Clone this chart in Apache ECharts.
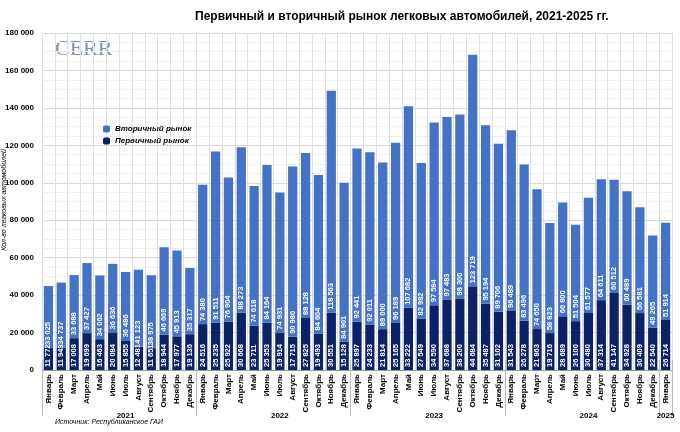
<!DOCTYPE html>
<html>
<head>
<meta charset="utf-8">
<script src="https://cdn.jsdelivr.net/npm/echarts@6/dist/echarts.min.js"></script>
<style>body{margin:0}#main{width:680px;height:432px}</style>
</head>
<body>
<div id="main"></div>
<script>
var monthNames = ['Январь','Февраль','Март','Апрель','Май','Июнь','Июль','Август','Сентябрь','Октябрь','Ноябрь','Декабрь'];
var years = ['2021','2022','2023','2024','2025'];
var primary = [11772,11943,17008,19699,16463,20084,15855,12481,11651,18944,17977,19136,
  24516,25235,25922,30668,23711,25353,19914,17715,27825,19493,30551,15128,
  25897,24233,21814,25165,33222,27549,34590,37688,38200,44684,35487,31102,
  31543,26278,21863,19716,28689,26100,30480,37314,41147,34928,30409,22540,
  26714];
var secondary = [33025,34737,33688,37427,34062,36636,36486,41123,38975,46669,45913,35317,
  74380,91511,76904,88273,74618,84164,74931,90980,88128,84604,118563,84901,
  92441,92011,89000,96189,107682,82982,97584,97483,98300,123719,95194,89706,
  96489,83496,74650,58823,60800,51504,61577,64611,60512,60489,56581,49265,
  51914];
var months = [], yearOf = [];
for (var i = 0; i < primary.length; i++) { months.push(monthNames[i % 12]); yearOf.push(years[Math.floor(i / 12)]); }
var yearLabelIdx = {6: '2021', 18: '2022', 30: '2023', 42: '2024', 48: '2025'};

function fmt(v) { return String(v).replace(/\B(?=(\d{3})+(?!\d))/g, ' '); }
var lbl = { show: true, position: 'insideBottom', rotate: 90, align: 'left', verticalAlign: 'middle', distance: 3,
  color: '#fff', fontSize: 7.5, fontWeight: 'bold', fontFamily: 'Liberation Sans', formatter: function (p) { return fmt(p.value); } };

var chart = echarts.init(document.getElementById('main'));
chart.setOption({
  textStyle: { fontFamily: 'Liberation Sans' },
  title: { text: 'Первичный и вторичный рынок легковых автомобилей, 2021-2025 гг.', left: 190, top: 6,
    textStyle: { fontSize: 12, fontWeight: 'bold', color: '#000' } },
  graphic: [
    { type: 'text', left: 55, top: 38, style: { text: 'CERR', fontSize: 22, fontFamily: 'Liberation Serif', fill: '#7f8fb0' } },
    { type: 'text', left: 55, top: 419, style: { text: 'Источник: Республиканское ГАИ', fontSize: 7, fontStyle: 'italic', fill: '#000' } },
    { type: 'text', x: 4, y: 200, rotation: Math.PI / 2, style: { text: 'Кол-во легковых автомобилей', fontSize: 7, fontStyle: 'italic', fill: '#000', align: 'center', verticalAlign: 'middle' } }
  ],
  legend: { orient: 'vertical', left: 98, top: 120, itemWidth: 7, itemHeight: 7, itemGap: 4,
    textStyle: { fontSize: 8, fontStyle: 'italic', fontWeight: 'bold', color: '#000' },
    data: ['Вторичный рынок', 'Первичный рынок'] },
  grid: { left: 42, right: 8, top: 33, bottom: 62 },
  xAxis: [
    { type: 'category', data: months, axisLine: { lineStyle: { color: '#999' } }, axisTick: { show: false },
      axisLabel: { rotate: 90, fontSize: 8, fontWeight: 'bold', color: '#000', interval: 0, margin: 4 },
      splitLine: { show: true, lineStyle: { color: '#e0e0e0' } } },
    { type: 'category', data: yearOf, position: 'bottom', offset: 46,
      axisLine: { show: false },
      axisTick: { show: true, length: 56, inside: true, lineStyle: { color: '#bbb' },
        interval: function (i) { return i % 12 === 0; } },
      axisLabel: { interval: 0, fontSize: 8, fontWeight: 'bold', color: '#000', margin: -4,
        formatter: function (v, i) { return yearLabelIdx[i] || ''; } } }
  ],
  yAxis: { type: 'value', min: 0, max: 180000, interval: 20000,
    axisLabel: { fontSize: 8, fontWeight: 'bold', color: '#000', formatter: fmt },
    splitLine: { lineStyle: { color: '#d9d9d9' } },
    minorTick: { show: false, splitNumber: 4 },
    minorSplitLine: { show: true, lineStyle: { color: '#efefef' } } },
  series: [
    { name: 'Первичный рынок', type: 'bar', stack: 'a', data: primary, barWidth: '72%',
      itemStyle: { color: '#0b2366' }, label: lbl },
    { name: 'Вторичный рынок', type: 'bar', stack: 'a', data: secondary,
      itemStyle: { color: '#4472c4' }, label: lbl }
  ]
});
</script>
</body>
</html>
